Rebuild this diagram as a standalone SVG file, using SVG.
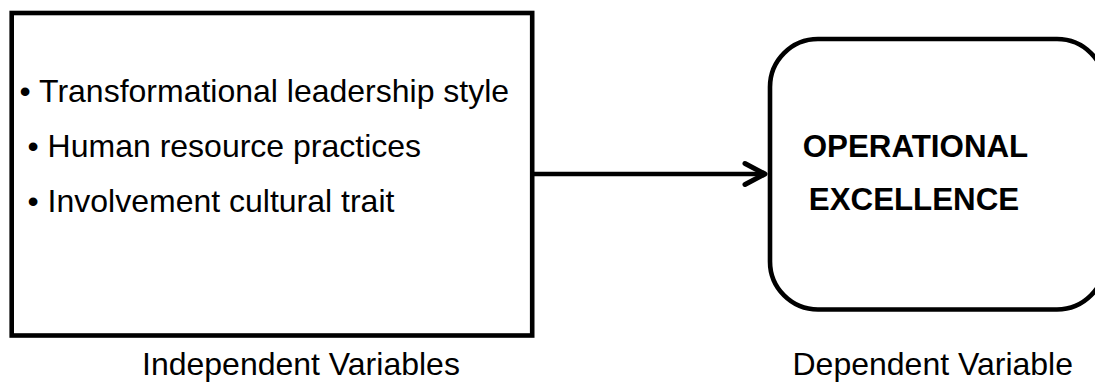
<svg xmlns="http://www.w3.org/2000/svg" width="1095" height="382" viewBox="0 0 1095 382">
<style>
.box{fill:#fff;stroke:#000;stroke-width:4.6}
.t{font-family:"Liberation Sans",Arial,sans-serif;font-size:32px;fill:#000}
.b{font-weight:bold;font-size:31.3px}
.conn{stroke:#000;stroke-width:4.6;fill:none}
</style>
<defs>
<marker id="arr" markerUnits="userSpaceOnUse" markerWidth="34" markerHeight="34" viewBox="-27 -17 34 34" refX="0" refY="0" orient="auto" overflow="visible">
<path d="M-20,-10.5 L0,0 L-20,10.5" fill="none" stroke="#000" stroke-width="5" stroke-linecap="round" stroke-linejoin="round"/>
</marker>
</defs>
<rect width="1095" height="382" fill="#fff"/>
<g id="connectors">
<line class="conn" x1="534" y1="174" x2="765" y2="174" marker-end="url(#arr)"/>
</g>
<g id="independent">
<rect class="box" x="11.7" y="13" width="520.5" height="322.5"/>
<text class="t" x="19.5" y="102">• Transformational leadership style</text>
<text class="t" x="27.5" y="157">• Human resource practices</text>
<text class="t" x="27.5" y="212">• Involvement cultural trait</text>
<text class="t" x="142" y="375">Independent Variables</text>
</g>
<g id="dependent">
<rect class="box" x="770" y="39" width="335" height="270.5" rx="48" ry="48"/>
<text class="t b" x="915.5" y="157" text-anchor="middle">OPERATIONAL</text>
<text class="t b" x="914" y="210" text-anchor="middle">EXCELLENCE</text>
<text class="t" x="792.5" y="375">Dependent Variable</text>
</g>
</svg>
